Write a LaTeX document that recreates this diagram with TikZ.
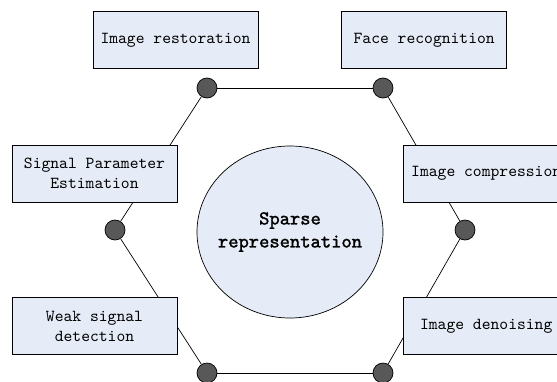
\documentclass[tikz,border=0pt]{standalone}
\usepackage{fontspec}
\newfontfamily\appfont{lmmono10-regular.otf}
\newfontfamily\corefont[FakeBold=1.6]{lmmono10-regular.otf}
\usepackage{tikz}
\usetikzlibrary{
	positioning,
	shapes.geometric
}
\definecolor{boxfill}{RGB}{230,236,247}
\definecolor{knotfill}{RGB}{88,88,88}
\tikzset{
	app/.style={draw,fill=boxfill,line width=0.7pt,minimum width=165pt,minimum height=57pt,
		inner sep=0pt,align=center,font=\appfont\fontsize{16.8}{19.5}\selectfont},
	knot/.style={circle,draw,fill=knotfill,line width=0.7pt,minimum size=20pt,inner sep=0pt},
	core/.style={ellipse,draw,fill=boxfill,line width=0.7pt,minimum width=186pt,minimum height=172pt,
		inner sep=-30pt,align=center,font=\corefont\fontsize{19.6}{23}\selectfont}
}

\begin{document}
\begin{tikzpicture}[x=1pt,y=-1pt]
		\clip (0,0) rectangle (557,381);
		\fill[white] (0,0) rectangle (557,381);

		\draw[line width=0.7pt]
			node [knot] at (207,88)  (k1) {}
			node [knot] at (383,88)  (k2) {}
			node [knot] at (465,230) (k3) {}
			node [knot] at (383,373) (k4) {}
			node [knot] at (207,373) (k5) {}
			node [knot] at (115,230) (k6) {}

			(k1) edge (k2)
			(k2) edge (k3)
			(k3) edge (k4)
			(k4) edge (k5)
			(k5) edge (k6)
			(k6) edge (k1)
		;

		\draw
			node [app] at (175.5,40)         (rest) {Image restoration}
			node [app,right=83pt of rest]    (face) {Face recognition}
			node [app] at (94.5,173.5)       (sig)  {Signal Parameter\\Estimation}
			node [app,right=226pt of sig]    (comp) {Image compression}
			node [app,below=95pt of sig]     (weak) {Weak signal\\detection}
			node [app,right=226pt of weak]   (den)  {Image denoising}
			node [core] at (290,232)         (sr)   {Sparse\\representation}
		;
	\end{tikzpicture}
\end{document}
